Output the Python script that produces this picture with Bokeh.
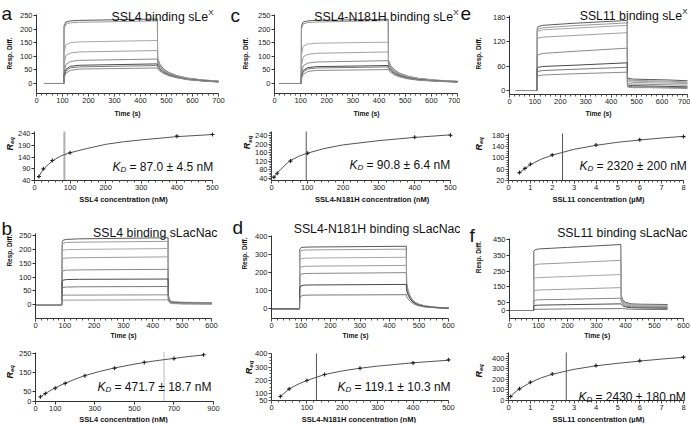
import math
from bokeh.plotting import figure
from bokeh.layouts import row, column
from bokeh.models import Range1d, Label, SingleIntervalTicker, FixedTicker
from bokeh.embed import file_html
from bokeh.resources import INLINE

FONT = "Liberation Sans"

# ---------------- data ----------------
# (a) SSL4 binding sLeX  - sensorgram
a_time = [30, 105, 106, 113, 130, 165, 465, 466, 475, 490, 510, 540, 580, 640, 700]
a_curves = [
    [0, 0, 212, 226, 230, 232, 237, 92, 70, 52, 40, 29, 20, 13, 9],
    [0, 0, 200, 218, 223, 225, 230, 90, 68, 51, 39, 28, 19, 12, 8],
    [0, 0, 110, 142, 150, 153, 158, 86, 65, 49, 37, 27, 18, 12, 8],
    [0, 0, 70, 103, 112, 116, 121, 82, 63, 47, 36, 26, 17, 11, 7],
    [0, 0, 42, 70, 81, 85, 90, 76, 59, 45, 34, 25, 17, 11, 7],
    [0, 0, 28, 52, 63, 67, 72, 66, 53, 41, 31, 23, 15, 10, 6],
    [0, 0, 24, 46, 57, 61, 66, 61, 50, 39, 30, 22, 15, 9, 6],
    [0, 0, 18, 38, 48, 53, 57, 53, 45, 36, 28, 21, 14, 9, 5],
]
a_conc = [12.5, 25, 50, 100, 400, 500]
a_req = [57, 90, 126, 159, 230, 237]
a_fit_conc = [9, 12.5, 20, 30, 50, 75, 100, 150, 200, 250, 300, 400, 500]
a_fit_req = [50, 57, 78, 96, 124, 146, 159, 178, 195, 206, 214, 228, 237]
a_kd_line = 84

# (b) SSL4 binding sLacNac
b_time = [0, 90, 91, 94, 105, 150, 452, 453, 456, 462, 475, 500, 600]
b_curves = [
    [0, 0, 225, 233, 236, 238, 242, 35, 20, 13, 10, 9, 8],
    [0, 0, 215, 222, 225, 226, 229, 33, 19, 12, 9, 8, 7],
    [0, 0, 190, 197, 199, 200, 203, 31, 18, 11, 9, 8, 7],
    [0, 0, 160, 167, 169, 170, 173, 29, 17, 11, 8, 7, 6],
    [0, 0, 117, 123, 125, 126, 128, 27, 16, 10, 8, 7, 6],
    [0, 0, 84, 89, 91, 92, 93, 25, 15, 9, 7, 6, 5],
    [0, 0, 58, 63, 64, 65, 66, 22, 13, 8, 6, 5, 4],
    [0, 0, 30, 34, 35, 35, 36, 18, 11, 7, 5, 4, 3],
    [0, 0, 14, 16, 17, 17, 18, 12, 8, 5, 4, 3, 2],
]
b_conc = [25, 50, 100, 150, 250, 400, 550, 700, 850]
b_req = [25, 42, 70, 95, 135, 175, 205, 225, 245]
b_fit_conc = [20, 50, 100, 150, 200, 250, 325, 400, 475, 550, 625, 700, 775, 850]
b_fit_req = [20, 42, 72, 96, 117, 136, 158, 176, 191, 205, 216, 226, 236, 244]
b_kd_line = 650

# (c) SSL4-N181H binding sLeX
c_time = [20, 102, 103, 110, 127, 160, 435, 436, 445, 460, 480, 510, 550, 620, 700]
c_curves = [
    [0, 0, 212, 226, 230, 232, 236, 85, 64, 49, 37, 27, 19, 12, 8],
    [0, 0, 200, 219, 224, 226, 231, 83, 63, 48, 36, 26, 18, 12, 8],
    [0, 0, 105, 137, 145, 148, 152, 80, 61, 46, 35, 25, 17, 11, 7],
    [0, 0, 66, 98, 107, 111, 116, 76, 58, 44, 33, 24, 16, 10, 7],
    [0, 0, 38, 65, 75, 79, 84, 70, 54, 41, 31, 22, 15, 10, 6],
    [0, 0, 26, 48, 58, 62, 66, 60, 48, 37, 28, 20, 14, 9, 6],
    [0, 0, 22, 43, 53, 57, 61, 56, 45, 35, 27, 19, 13, 9, 5],
    [0, 0, 16, 34, 44, 48, 51, 48, 40, 31, 24, 17, 12, 8, 5],
]
c_conc = [7, 16, 53, 101, 400, 500]
c_req = [45, 63, 120, 157, 232, 241]
c_fit_conc = [5, 10, 16, 25, 50, 75, 100, 150, 200, 300, 400, 500]
c_fit_req = [40, 52, 64, 80, 120, 142, 157, 180, 196, 216, 231, 243]
c_kd_line = 97

# (d) SSL4-N181H binding sLacNac
d_time = [0, 95, 96, 100, 110, 140, 457, 458, 463, 470, 480, 495, 520, 560, 600]
d_curves = [
    [0, 0, 330, 338, 341, 342, 346, 140, 100, 70, 45, 28, 16, 8, 5],
    [0, 0, 312, 322, 325, 326, 330, 137, 98, 68, 44, 27, 15, 8, 5],
    [0, 0, 265, 277, 280, 281, 285, 132, 95, 66, 43, 26, 15, 8, 4],
    [0, 0, 220, 232, 235, 236, 240, 126, 91, 64, 41, 25, 14, 7, 4],
    [0, 0, 180, 192, 195, 196, 200, 118, 86, 61, 39, 24, 13, 7, 4],
    [0, 0, 115, 127, 131, 132, 135, 100, 76, 55, 36, 22, 12, 6, 3],
    [0, 0, 60, 71, 75, 76, 78, 68, 55, 42, 29, 18, 10, 5, 3],
]
d_conc = [25, 50, 100, 150, 250, 400, 500]
d_req = [80, 137, 200, 245, 292, 332, 355]
d_fit_conc = [25, 50, 75, 100, 150, 200, 250, 300, 400, 500]
d_fit_req = [80, 137, 172, 200, 245, 272, 292, 308, 333, 352]
d_kd_line = 127

# (e) SSL11 binding sLeX (concentration in uM)
e_time = [25, 108, 109, 113, 130, 250, 463, 464, 468, 485, 550, 620, 700]
e_curves = [
    [0, 0, 152, 157, 160, 165, 172, 33, 30, 28, 27, 26, 24],
    [0, 0, 146, 151, 154, 159, 166, 29, 27, 25, 24, 23, 21],
    [0, 0, 142, 146, 149, 153, 160, 27, 25, 23, 22, 21, 19],
    [0, 0, 124, 129, 131, 135, 142, 24, 22, 20, 19, 18, 17],
    [0, 0, 84, 88, 91, 96, 104, 19, 17, 16, 15, 14, 13],
    [0, 0, 54, 57, 59, 62, 68, 14, 13, 12, 11, 10, 9],
    [0, 0, 44, 47, 49, 52, 57, 11, 10, 9, 9, 8, 7],
    [0, 0, 33, 36, 38, 41, 45, 9, 8, 7, 7, 6, 5],
]
e_conc = [0.5, 0.75, 1, 2, 4, 6, 8]
e_req = [48, 63, 78, 111, 146, 165, 176]
e_fit_conc = [0.5, 0.75, 1, 1.5, 2, 3, 4, 5, 6, 7, 8]
e_fit_req = [48, 62, 76, 96, 110, 131, 145, 156, 164, 171, 177]
e_kd_line = 2.47

# (f) SSL11 binding sLacNac
f_time = [0, 83, 84, 88, 100, 200, 384, 385, 390, 400, 420, 450, 545]
f_curves = [
    [0, 0, 375, 385, 390, 400, 418, 100, 70, 52, 42, 40, 38],
    [0, 0, 280, 290, 294, 302, 318, 90, 62, 46, 37, 35, 33],
    [0, 0, 198, 206, 209, 215, 228, 80, 55, 40, 32, 30, 28],
    [0, 0, 120, 127, 130, 135, 145, 70, 48, 35, 28, 26, 24],
    [0, 0, 60, 65, 68, 71, 78, 58, 40, 29, 23, 21, 19],
    [0, 0, 28, 32, 34, 37, 42, 40, 30, 22, 18, 16, 14],
    [0, 0, 5, 7, 8, 10, 12, 14, 12, 10, 8, 7, 6],
]
f_conc = [0.1, 0.5, 1, 2, 4, 6, 8]
f_req = [38, 110, 173, 250, 330, 375, 410]
f_fit_conc = [0.1, 0.25, 0.5, 1, 1.5, 2, 3, 4, 5, 6, 7, 8]
f_fit_req = [35, 70, 110, 170, 215, 248, 295, 328, 352, 373, 392, 408]
f_kd_line = 2.64

# tick labels
sens_b_yticks = [0, 50, 100, 150, 200, 250]
fit_a_yticks = [40, 90, 140, 190, 240]
fit_b_xticks = [0, 100, 300, 500, 700, 900]
fit_b_yticks = [0, 50, 150, 250]
fit_d_yticks = [50, 100, 200, 300, 400]
fit_e_yticks = [20, 60, 100, 140, 180]
sens_f_yticks = [0, 50, 150, 250, 350, 450]

# ---------------- layout helpers ----------------
COLS = [0, 230, 460]
COLW = [230, 230, 230]
ROWS = [0, 118, 205, 340]
ROWH = [118, 87, 135, 83]
GRAYS = ["#5a5a5a", "#9a9a9a", "#a8a8a8", "#a0a0a0", "#8a8a8a", "#4a4a4a", "#7a7a7a", "#8c8c8c", "#9a9a9a"]


def make(ci, ri, fx0, fx1, fy0, fy1, xr, yr):
    """Canvas is the whole frame; the data box sits at page px (fx0..fx1, fy0..fy1);
    axes are drawn at fixed data locations."""
    cw, ch = COLW[ci], ROWH[ri]
    L = fx0 - COLS[ci]
    R = COLS[ci] + cw - fx1
    T = fy0 - ROWS[ri]
    B = ROWS[ri] + ch - fy1
    W = fx1 - fx0
    H = fy1 - fy0
    sx = (xr[1] - xr[0]) / W
    sy = (yr[1] - yr[0]) / H
    X = (xr[0] - L * sx, xr[1] + R * sx)
    Y = (yr[0] - B * sy, yr[1] + T * sy)
    p = figure(width=cw, height=ch,
               x_range=Range1d(*X), y_range=Range1d(*Y),
               output_backend="svg", toolbar_location=None,
               min_border=0, min_border_left=0, min_border_right=0,
               min_border_top=0, min_border_bottom=0)
    p.outline_line_color = None
    p.xgrid.visible = False
    p.ygrid.visible = False
    p.background_fill_color = "white"
    p.border_fill_color = "white"
    p.xaxis[0].fixed_location = yr[0]
    p.xaxis[0].bounds = xr
    p.yaxis[0].fixed_location = xr[0]
    p.yaxis[0].bounds = yr
    for ax in (p.xaxis[0], p.yaxis[0]):
        ax.axis_line_color = "#333333"
        ax.major_tick_line_color = "#333333"
        ax.minor_tick_line_color = "#555555"
        ax.major_tick_in = 0
        ax.major_tick_out = 3
        ax.minor_tick_in = 0
        ax.minor_tick_out = 2
        ax.major_label_text_font = FONT
        ax.major_label_text_font_size = "7.5px"
        ax.major_label_text_color = "#222222"
        ax.major_label_standoff = 1
    fr = (COLS[ci], ROWS[ri], cw, ch, X, Y, yr)
    return p, fr


def put(p, fr, px, py, text, size, style="normal", align="left",
        baseline="middle", angle=0.0):
    fl, ft, W, H, xr, yr, _ = fr
    x = xr[0] + (px - fl) / W * (xr[1] - xr[0])
    y = yr[1] - (py - ft) / H * (yr[1] - yr[0])
    p.add_layout(Label(x=x, y=y, text=text, text_font=FONT,
                       text_font_size=f"{size}px", text_font_style=style,
                       text_align=align, text_baseline=baseline,
                       angle=angle, text_color="#111111"))


def ticks(p, xint, xminor, yint=None, yminor=0, xfixed=None, yfixed=None, ystep_minor=None):
    if xfixed is not None:
        p.xaxis[0].ticker = FixedTicker(ticks=xfixed)
    else:
        p.xaxis[0].ticker = SingleIntervalTicker(interval=xint, num_minor_ticks=xminor)
    if yfixed is not None:
        minors = []
        if ystep_minor:
            v = yfixed[0]
            while v <= yfixed[-1] + 1e-9:
                minors.append(v)
                v += ystep_minor
        p.yaxis[0].ticker = FixedTicker(ticks=yfixed, minor_ticks=minors)
    else:
        p.yaxis[0].ticker = SingleIntervalTicker(interval=yint, num_minor_ticks=yminor)


def sensor(p, fr, t, curves, letter, lpos, title_main, title_sup, tpos,
           time_pos, resp_pos):
    for i, c in enumerate(curves):
        p.line(t, c, line_color=GRAYS[i % len(GRAYS)], line_width=1)
    put(p, fr, lpos[0], lpos[1], letter, 19, align="left", baseline="alphabetic")
    if title_sup:
        put(p, fr, tpos[0], tpos[1] - 4.5, title_sup, 8, align="right", baseline="alphabetic")
        put(p, fr, tpos[0] - 5.5, tpos[1], title_main, 12.3, align="right", baseline="alphabetic")
    else:
        put(p, fr, tpos[0], tpos[1], title_main, 12.3, align="right", baseline="alphabetic")
    put(p, fr, time_pos[0], time_pos[1], "Time (s)", 6.8, "bold", align="center")
    put(p, fr, resp_pos[0], resp_pos[1], "Resp. Diff.", 6.5, "bold", align="center",
        angle=math.pi / 2)


def fitplot(p, fr, conc, req, fconc, freq, kd, kd_style, xlabel, xlpos, reqpos,
            kdpos, kd_rest):
    ylo, yhi = fr[6]
    if kd_style == "light":
        p.line([kd, kd], [ylo, yhi], line_color="#b0b0b0", line_width=2)
    elif kd_style == "dot":
        p.line([kd, kd], [ylo, yhi], line_color="#777777", line_width=1, line_dash="1 1")
    else:
        p.line([kd, kd], [ylo, yhi], line_color="#555555", line_width=1)
    p.line(fconc, freq, line_color="#555555", line_width=1)
    p.scatter(conc, req, marker="cross", size=4, line_color="#222222", line_width=1.1)
    put(p, fr, xlpos[0], xlpos[1], xlabel, 7.5, "bold", align="center")
    # R_eq rotated
    put(p, fr, reqpos[0], reqpos[1] + 7, "R", 9, "bold italic", align="left", angle=math.pi / 2)
    put(p, fr, reqpos[0] + 2.5, reqpos[1] + 0.5, "eq", 6, "bold italic", align="left",
        angle=math.pi / 2)
    # K_D text
    kx, ky = kdpos
    put(p, fr, kx, ky + 4.3, "K", 12, "italic", baseline="alphabetic")
    put(p, fr, kx + 8.0, ky + 7.3, "D", 8, "italic", baseline="alphabetic")
    put(p, fr, kx + 17.0, ky + 4.3, kd_rest, 12, baseline="alphabetic")


# ---------------- panels ----------------
A1, fA1 = make(0, 0, 36, 218, 14, 93, (0, 700), (-36.8, 253.6))
ticks(A1, 100, 5, 50, 0)
sensor(A1, fA1, a_time, a_curves, "a", (1, 13), "SSL4 binding sLe", "X", (213, 16),
       (127, 113), (9, 53))

A2, fA2 = make(0, 1, 34, 212, 131, 180, (0, 500), (40, 250))
ticks(A2, 100, 5, yfixed=fit_a_yticks)
fitplot(A2, fA2, a_conc, a_req, a_fit_conc, a_fit_req, a_kd_line, "light",
        "SSL4 concentration (nM)", (123, 199), (9, 143), (112, 162), "= 87.0 ± 4.5 nM")

B1, fB1 = make(0, 2, 35, 211, 233, 318, (0, 600), (-49.4, 257.3))
ticks(B1, 100, 5, yfixed=sens_b_yticks)
sensor(B1, fB1, b_time, b_curves, "b", (1, 228), "SSL4 binding sLacNac", None, (217, 232),
       (123, 335), (9, 250))

B2, fB2 = make(0, 3, 35, 213, 352, 401, (0, 900), (0, 257))
ticks(B2, None, 0, xfixed=fit_b_xticks, yfixed=fit_b_yticks)
fitplot(B2, fB2, b_conc, b_req, b_fit_conc, b_fit_req, b_kd_line, "dot",
        "SSL4 concentration (nM)", (123, 418.5), (9, 371), (97, 381.7), "= 471.7 ± 18.7 nM")

C1, fC1 = make(1, 0, 274, 457, 14, 93, (0, 700), (-36.8, 253.6))
ticks(C1, 100, 5, 50, 0)
sensor(C1, fC1, c_time, c_curves, "c", (230, 15), "SSL4-N181H binding sLe", "X", (458, 16),
       (366, 113), (245, 53))

C2, fC2 = make(1, 1, 271, 450, 131, 180, (0, 500), (29.2, 258.7))
ticks(C2, 100, 5, 40, 5)
fitplot(C2, fC2, c_conc, c_req, c_fit_conc, c_fit_req, c_kd_line, "dark",
        "SSL4-N181H concentration (nM)", (371.7, 199.3), (246.7, 141.7), (349, 160),
        "= 90.8 ± 6.4 nM")

D1, fD1 = make(1, 2, 271, 448, 235, 318, (0, 600), (-53.7, 405.6))
ticks(D1, 100, 5, 100, 0)
sensor(D1, fD1, d_time, d_curves, "d", (232, 227), "SSL4-N181H binding sLacNac", None,
       (460, 228), (355, 335), (244, 253))

D2, fD2 = make(1, 3, 271, 448, 353, 400, (0, 500), (50, 402.5))
ticks(D2, 100, 5, yfixed=fit_d_yticks, ystep_minor=25)
fitplot(D2, fD2, d_conc, d_req, d_fit_conc, d_fit_req, d_kd_line, "dark",
        "SSL4-N181H concentration (nM)", (358.3, 418.5), (248.3, 366.7), (337, 381.7),
        "= 119.1 ± 10.3 nM")

E1, fE1 = make(2, 0, 509, 687, 15, 94, (0, 700), (-9.8, 184.2))
ticks(E1, 100, 5, 60, 0)
sensor(E1, fE1, e_time, e_curves, "e", (460, 13), "SSL11 binding sLe", "X", (687, 15.5),
       (598, 113), (478, 53))

E2, fE2 = make(2, 1, 508, 683, 133, 180, (0, 8), (20, 187.1))
ticks(E2, 1, 5, yfixed=fit_e_yticks, ystep_minor=8)
fitplot(E2, fE2, e_conc, e_req, e_fit_conc, e_fit_req, e_kd_line, "dark",
        "SSL11 concentration (µM)", (598, 199), (478, 143), (579, 160.7),
        "= 2320 ± 200 nM")

F1, fF1 = make(2, 2, 509, 683, 238, 318, (0, 600), (-50.7, 456.3))
ticks(F1, 100, 5, yfixed=sens_f_yticks)
sensor(F1, fF1, f_time, f_curves, "f", (469, 235), "SSL11 binding sLacNac", None, (687, 232),
       (596.7, 335), (478, 256.7))

F2, fF2 = make(2, 3, 508, 683, 352, 400, (0, 8), (0, 454))
ticks(F2, 1, 5, 100, 5)
fitplot(F2, fF2, f_conc, f_req, f_fit_conc, f_fit_req, f_kd_line, "dark",
        "SSL11 concentration (µM)", (598, 418.5), (478, 370), (578, 391.7),
        "= 2430 ± 180 nM")

layout = row(column(A1, A2, B1, B2), column(C1, C2, D1, D2), column(E1, E2, F1, F2))

open("out.html", "w").write(file_html(layout, INLINE))
